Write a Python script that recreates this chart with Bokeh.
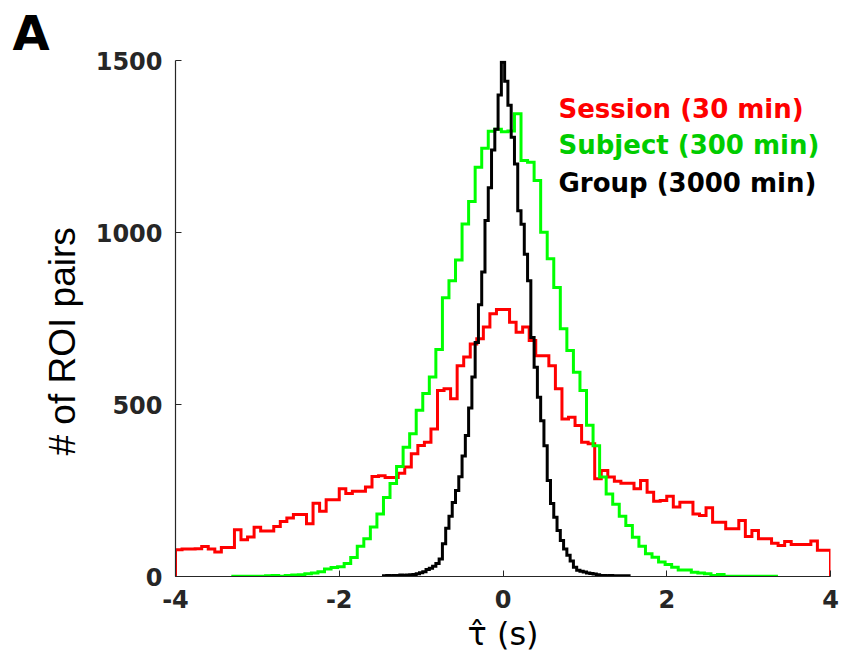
import numpy as np
from bokeh.plotting import figure
from bokeh.models import Range1d, Label, FixedTicker, Title
from bokeh.embed import file_html
from bokeh.resources import INLINE

# ---------------- data ----------------
x_ticks = [-4, -2, 0, 2, 4]
x_tick_labels = ["-4", "-2", "0", "2", "4"]
y_ticks = [0, 500, 1000, 1500]
y_tick_labels = ["0", "500", "1000", "1500"]

series_names = ["Session (30 min)", "Subject (300 min)", "Group (3000 min)"]

# Session (30 min): histogram, bins of 0.08 s starting at -4 s
session_start = -4.0
session_width = 0.08
session_counts = [
    78, 80, 80, 81, 87, 80, 71, 84, 84, 136,
    107, 115, 143, 132, 132, 145, 160, 170, 180, 180,
    153, 213, 190, 223, 223, 255, 241, 248, 248, 260,
    291, 293, 288, 288, 300, 318, 357, 381, 390, 429,
    541, 546, 517, 613, 638, 676, 691, 725, 764, 776,
    776, 739, 710, 725, 686, 642, 642, 613, 546, 458,
    463, 439, 390, 386, 284, 308, 289, 277, 271, 271,
    255, 279, 245, 219, 221, 233, 202, 216, 216, 182,
    177, 200, 158, 158, 139, 139, 163, 116, 134, 110,
    110, 97, 90, 102, 93, 93, 93, 103, 76, 76,
]

# Subject (300 min): bins of 0.08 s starting at -3.30 s
subject_start = -3.30
subject_width = 0.08
subject_counts = [
    1, 1, 1, 1, 1, 2, 3, 1, 3, 4,
    5, 8, 10, 14, 22, 26, 28, 38, 55, 88,
    110, 144, 182, 230, 270, 320, 376, 415, 483, 532,
    580, 660, 810, 860, 920, 1025, 1090, 1190, 1245, 1294,
    1300, 1293, 1295, 1345, 1209, 1204, 1151, 1001, 924, 840,
    720, 657, 594, 541, 440, 380, 289, 240, 210, 175,
    148, 114, 88, 66, 56, 42, 35, 27, 19, 19,
    12, 10, 8, 3, 6, 1, 1, 1, 1, 1,
    1, 1, 1,
]

# Group (3000 min): bins of 0.04 s starting at -1.46 s
group_start = -1.46
group_width = 0.04
group_counts = [
    2, 3, 2, 3, 3, 4, 3, 4, 5, 6,
    8, 11, 14, 20, 24, 30, 38, 51, 95, 140,
    175, 215, 250, 290, 350, 410, 490, 580, 680, 790,
    885, 1035, 1130, 1240, 1300, 1400, 1495, 1440, 1370, 1277,
    1199, 1063, 1024, 937, 860, 695, 608, 521, 453, 380,
    279, 212, 172, 134, 105, 80, 62, 45, 27, 18,
    15, 13, 10, 9, 7, 5, 3, 3, 2, 3,
    2, 2, 2, 2, 2,
]

line_colors = ["#ff0000", "#00ff00", "#000000"]
text_colors = ["#ff0000", "#00cc00", "#000000"]


def outline(start, width, counts):
    c = np.asarray(counts, dtype=float)
    edges = start + width * np.arange(len(c) + 1)
    xs = np.repeat(edges, 2)
    ys = np.concatenate([[0.0], np.repeat(c, 2), [0.0]])
    return xs, ys


p = figure(
    width=842, height=669,
    x_range=Range1d(-4, 4), y_range=Range1d(0, 1500),
    output_backend="svg", toolbar_location=None,
    min_border_left=175, min_border_right=12,
    min_border_top=60, min_border_bottom=93,
)
p.outline_line_color = None
p.grid.visible = False
p.background_fill_color = "white"
p.border_fill_color = "white"

# panel letter
p.title.text = "A"
p.title.align = "left"
p.title.offset = -163
p.title.standoff = 0
p.title.text_font = "DejaVu Sans"
p.title.text_font_style = "bold"
p.title.text_font_size = "48px"
p.title.text_color = "black"

for (st, w, cnt), col in zip(
    [(session_start, session_width, session_counts),
     (subject_start, subject_width, subject_counts),
     (group_start, group_width, group_counts)],
    line_colors,
):
    xs, ys = outline(st, w, cnt)
    p.line(xs, ys, line_color=col, line_width=3, line_join="miter")

axis_col = "#262626"
for ax in (p.xaxis[0], p.yaxis[0]):
    ax.axis_line_color = axis_col
    ax.axis_line_width = 1.2
    ax.major_tick_line_color = axis_col
    ax.major_tick_in = 6
    ax.major_tick_out = 0
    ax.minor_tick_line_color = None
    ax.major_label_text_font = "DejaVu Sans"
    ax.major_label_text_font_style = "bold"
    ax.major_label_text_font_size = "24px"
    ax.major_label_text_color = axis_col

p.xaxis.ticker = FixedTicker(ticks=x_ticks)
p.xaxis.major_label_overrides = dict(zip(x_ticks, x_tick_labels))
p.yaxis.ticker = FixedTicker(ticks=y_ticks)
p.yaxis.major_label_overrides = dict(zip(y_ticks, y_tick_labels))
p.xaxis.major_label_standoff = 13
p.yaxis.major_label_standoff = 13

# y-axis title (side title, anchored at the bottom of the frame)
p.add_layout(Title(text="# of ROI pairs", align="left", offset=121,
                   standoff=19, text_font="Liberation Sans",
                   text_font_style="normal", text_font_size="37px",
                   text_color="black"), "left")

p.xaxis.axis_label = "\u03c4\u0302 (s)"
p.xaxis.axis_label_text_font = "DejaVu Sans"
p.xaxis.axis_label_text_font_style = "normal"
p.xaxis.axis_label_text_font_size = "32px"
p.xaxis.axis_label_text_color = "black"
p.xaxis.axis_label_standoff = 4

# legend as coloured text
legend_y = [1358, 1254, 1144]
for name, col, yy in zip(series_names, text_colors, legend_y):
    p.add_layout(Label(x=0.678, y=yy, text=name, text_color=col,
                       text_font="DejaVu Sans", text_font_style="bold",
                       text_font_size="26px", text_baseline="alphabetic",
                       text_align="left"))

open("out.html", "w").write(file_html(p, INLINE))
